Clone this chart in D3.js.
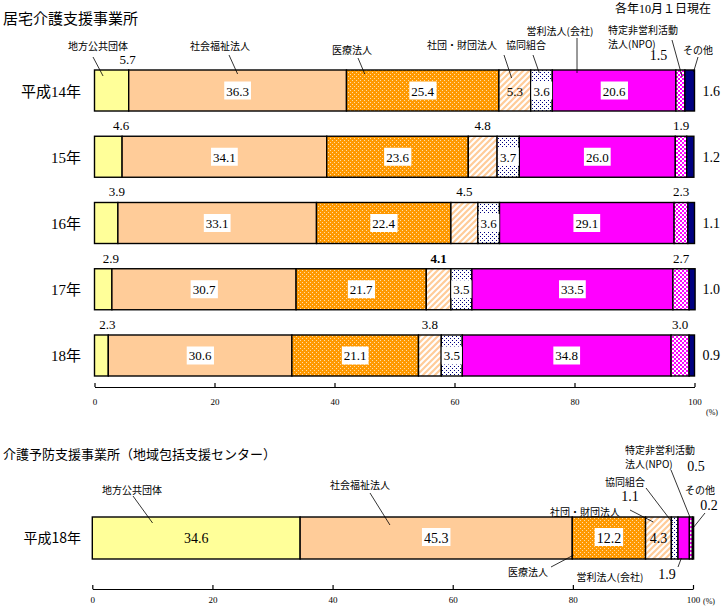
<!DOCTYPE html>
<html>
<head>
<meta charset="utf-8">
<script src="https://cdn.jsdelivr.net/npm/d3@7"></script>
<style>
  body { margin: 0; background: #fff; }
  svg { display: block; }
</style>
</head>
<body>
<div id="chart"></div>
<script>
// ---- data ----
var categories = ["地方公共団体", "社会福祉法人", "医療法人", "社団・財団法人", "協同組合", "営利法人(会社)", "特定非営利活動法人(NPO)", "その他"];
var years = ["平成14年", "15年", "16年", "17年", "18年"];
var h14 = [5.7, 36.3, 25.4, 5.3, 3.6, 20.6, 1.5, 1.6];
var h15 = [4.6, 34.1, 23.6, 4.8, 3.7, 26.0, 1.9, 1.2];
var h16 = [3.9, 33.1, 22.4, 4.5, 3.6, 29.1, 2.3, 1.1];
var h17 = [2.9, 30.7, 21.7, 4.1, 3.5, 33.5, 2.7, 1.0];
var h18 = [2.3, 30.6, 21.1, 3.8, 3.5, 34.8, 3.0, 0.9];
var yoboYears = ["平成18年"];
var yobo18 = [34.6, 45.3, 12.2, 4.3, 1.1, 1.9, 0.5, 0.2];
var ticks = [0, 20, 40, 60, 80, 100];

var W = 726, H = 609;
var NUM = "'Liberation Serif','Noto Sans CJK JP',serif";
var GOTH = "'Noto Sans CJK JP',sans-serif";

var svg = d3.select("#chart").append("svg")
  .attr("width", W).attr("height", H)
  .style("font-family", NUM);

// patterns
var defs = svg.append("defs");
function pat(id, size, bg) {
  var p = defs.append("pattern").attr("id", id)
    .attr("width", size).attr("height", size)
    .attr("patternUnits", "userSpaceOnUse");
  p.append("rect").attr("width", size).attr("height", size).attr("fill", bg);
  return p;
}
var p1 = pat("pIryo", 4, "#FF9900");
[[0, 0], [2, 2]].forEach(function(d) {
  p1.append("rect").attr("x", d[0]).attr("y", d[1]).attr("width", 1).attr("height", 1).attr("fill", "#FFDDA8");
});
var p2 = pat("pShadan", 6, "#fff");
p2.append("path").attr("d", "M-2,2L2,-2M0,6L6,0M4,8L8,4")
  .attr("stroke", "#FFCC99").attr("stroke-width", 2.2);
var p3 = pat("pKyodo", 4, "#fff");
[[0, 0], [2, 2]].forEach(function(d) {
  p3.append("rect").attr("x", d[0]).attr("y", d[1]).attr("width", 1).attr("height", 1).attr("fill", "#000080");
});
var p4 = pat("pNpo", 4, "#fff");
[[0, 0], [2, 2]].forEach(function(d) {
  p4.append("rect").attr("x", d[0]).attr("y", d[1]).attr("width", 2).attr("height", 2).attr("fill", "#FF00FF");
});

var fills = ["#FFFF99", "#FFCC99", "url(#pIryo)", "url(#pShadan)", "url(#pKyodo)", "#FF00FF", "url(#pNpo)", "#000080"];

function segments(vals) {
  var c = 0;
  return vals.map(function(v, i) {
    var s = { i: i, v: v, x0: c, x1: c + v };
    c += v;
    return s;
  });
}

function drawRow(g, x, top, h, vals) {
  var segs = segments(vals);
  g.selectAll(null).data(segs).enter().append("rect")
    .attr("x", function(d) { return x(d.x0); })
    .attr("y", top)
    .attr("width", function(d) { return x(d.x1) - x(d.x0); })
    .attr("height", h)
    .attr("fill", function(d) { return fills[d.i]; })
    .attr("stroke", "#000")
    .attr("stroke-width", 1.4);
  return segs;
}

// number label, optionally on a white box
function num(g, x, y, txt, opt) {
  opt = opt || {};
  var t = g.append("text").attr("x", x).attr("y", y)
    .attr("text-anchor", opt.anchor || "middle")
    .attr("font-size", opt.size || 13)
    .attr("font-weight", opt.bold ? "bold" : null)
    .attr("fill", "#000")
    .text(txt);
  if (opt.box) {
    var b = t.node().getBBox();
    g.insert("rect", function() { return t.node(); })
      .attr("x", b.x - 2).attr("y", opt.boxTop)
      .attr("width", b.width + 4).attr("height", 18)
      .attr("fill", "#fff");
  }
  return t;
}

function note(g, x, n, seg, top) {
  var t = g.append("text").attr("font-family", GOTH).attr("font-size", 10)
    .attr("text-anchor", n.anchor || "middle").attr("fill", "#000");
  n.lines.forEach(function(s, k) {
    t.append("tspan").attr("x", n.tx).attr("y", n.ty + k * 14).text(s);
  });
  g.append("line")
    .attr("x1", n.lx).attr("y1", n.ly)
    .attr("x2", x(seg.x0 + n.f * seg.v)).attr("y2", top + n.ey)
    .attr("stroke", "#000").attr("stroke-width", 0.8);
  if (n.val) num(g, n.vx, n.vy, n.val, { size: 14 });
}

function axis(x, y, pad) {
  var a = svg.append("g").attr("transform", "translate(0," + y + ")")
    .call(d3.axisBottom(x).tickValues(ticks).tickSizeInner(-4).tickSizeOuter(0).tickPadding(pad));
  a.attr("font-family", NUM).attr("font-size", 9);
  a.selectAll("path,line").attr("stroke", "#000").attr("stroke-width", 1.2);
  return a;
}

// ---- 居宅介護支援事業所 ----
svg.append("text").attr("x", 3).attr("y", 24)
  .attr("font-family", GOTH).attr("font-size", 15).text("居宅介護支援事業所");
svg.append("text").attr("x", 711).attr("y", 13).attr("text-anchor", "end")
  .attr("font-size", 12).text("各年10月１日現在");

var xTop = d3.scaleLinear().domain([0, 100]).range([94.5, 694.5]);
var yTop = d3.scaleBand().domain(years).range([70, 376]).paddingInner(0.381).paddingOuter(0);
var rows = [h14, h15, h16, h17, h18];

var gTop = svg.append("g");
rows.forEach(function(vals, r) {
  var top = yTop(years[r]), h = yTop.bandwidth(), cy = top + h / 2;
  var segs = drawRow(gTop, xTop, top, h, vals);
  gTop.append("text").attr("x", 81).attr("y", cy + 6).attr("text-anchor", "end")
    .attr("font-size", 15).text(years[r]);
  segs.forEach(function(s) {
    var mid = xTop((s.x0 + s.x1) / 2), txt = d3.format(".1f")(s.v);
    if (s.i === 1 || s.i === 2 || s.i === 4 || s.i === 5) {
      num(gTop, mid, cy + 5, txt, { box: true, boxTop: cy - 9 });
    } else if (s.i === 3) {
      if (r === 0) num(gTop, mid, cy + 5, txt);
      else num(gTop, mid, top - 6, txt, { bold: r === 3 });
    } else if (s.i === 0) {
      num(gTop, xTop(s.x1) - 1, top - 6, txt);
    } else if (s.i === 6) {
      if (r === 0) num(gTop, mid - 22, top - 10, txt, { size: 14 });
      else num(gTop, mid, top - 6, txt);
    } else {
      num(gTop, xTop(100) + 8, cy + 5, txt, { anchor: "start", size: 14 });
    }
  });
  if (r === 0) {
    var topNotes = [
      { i: 0, lines: ["地方公共団体"], tx: 98, ty: 50, lx: 93, ly: 57, f: 0.25, ey: 6 },
      { i: 1, lines: ["社会福祉法人"], tx: 220, ty: 50, lx: 229, ly: 55, f: 0.5, ey: 4 },
      { i: 2, lines: ["医療法人"], tx: 352, ty: 54, lx: 358, ly: 58, f: 0.12, ey: 4 },
      { i: 3, lines: ["社団・財団法人"], tx: 462, ty: 49, lx: 504, ly: 55, f: 0.4, ey: 8 },
      { i: 4, lines: ["協同組合"], tx: 526, ty: 49, lx: 533, ly: 55, f: 0.4, ey: 3 },
      { i: 5, lines: ["営利法人(会社)"], tx: 560, ty: 35, lx: 577, ly: 38, f: 0.2, ey: 3 },
      { i: 6, lines: ["特定非営利活動", "法人(NPO)"], tx: 608, ty: 34, anchor: "start", lx: 672, ly: 40, f: 0.7, ey: 7 },
      { i: 7, lines: ["その他"], tx: 698, ty: 54, lx: 698, ly: 57, f: 0.9, ey: 2 }
    ];
    topNotes.forEach(function(n) { note(gTop, xTop, n, segs[n.i], top); });
  }
});
axis(xTop, 387, 12);
svg.append("text").attr("x", 706).attr("y", 415).attr("font-size", 8).text("(%)");

// ---- 介護予防支援事業所 ----
svg.append("text").attr("x", 3).attr("y", 459)
  .attr("font-family", GOTH).attr("font-size", 13).text("介護予防支援事業所（地域包括支援センター）");

var xBot = d3.scaleLinear().domain([0, 100]).range([92.3, 693]);
var yBot = d3.scaleBand().domain(yoboYears).range([517, 559]);
var gBot = svg.append("g");
(function() {
  var top = yBot(yoboYears[0]), h = yBot.bandwidth(), cy = top + h / 2;
  var segs = drawRow(gBot, xBot, top, h, yobo18);
  gBot.append("text").attr("x", 81).attr("y", cy + 5).attr("text-anchor", "end")
    .attr("font-family", GOTH).attr("font-size", 14).text(yoboYears[0]);
  segs.slice(0, 4).forEach(function(s) {
    var mid = xBot((s.x0 + s.x1) / 2), txt = d3.format(".1f")(s.v);
    var boxed = s.i === 1 || s.i === 2;
    num(gBot, mid, cy + 5, txt, { size: 14, box: boxed, boxTop: cy - 10 });
  });
  var botNotes = [
    { i: 0, lines: ["地方公共団体"], tx: 132, ty: 494, lx: 133, ly: 496, f: 0.29, ey: 6 },
    { i: 1, lines: ["社会福祉法人"], tx: 360, ty: 489, lx: 370, ly: 493, f: 0.33, ey: 8 },
    { i: 2, lines: ["医療法人"], tx: 528, ty: 576, lx: 551, ly: 567, f: 0.02, ey: 38 },
    { i: 3, lines: ["社団・財団法人"], tx: 585, ty: 516, lx: 630, ly: 510, f: 0.3, ey: 5 },
    { i: 4, lines: ["協同組合"], tx: 625, ty: 486, lx: 646, ly: 488, f: 0.2, ey: 6, val: "1.1", vx: 630, vy: 501 },
    { i: 5, lines: ["営利法人(会社)"], tx: 610, ty: 581, lx: 678, ly: 567, f: 0.3, ey: 41, val: "1.9", vx: 667, vy: 579 },
    { i: 6, lines: ["特定非営利活動", "法人(NPO)"], tx: 625, ty: 454, anchor: "start", lx: 671, ly: 470, f: 0.3, ey: 1, val: "0.5", vx: 696, vy: 471 },
    { i: 7, lines: ["その他"], tx: 700, ty: 494, lx: 705, ly: 513, f: 0.5, ey: 11, val: "0.2", vx: 709, vy: 510 }
  ];
  botNotes.forEach(function(n) { note(gBot, xBot, n, segs[n.i], top); });
})();
axis(xBot, 589, 8);
svg.append("text").attr("x", 703).attr("y", 604).attr("font-size", 8).text("(%)");
</script>
</body>
</html>
